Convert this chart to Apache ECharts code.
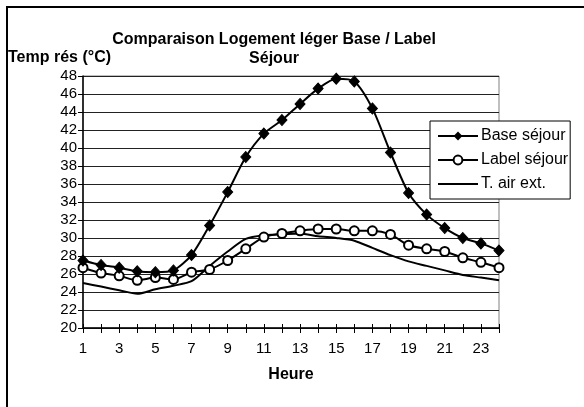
<!DOCTYPE html>
<html>
<head>
<meta charset="utf-8">
<script src="https://cdn.jsdelivr.net/npm/echarts@6/dist/echarts.min.js"></script>
<style>
html,body{margin:0;padding:0;background:#fff;}
#c{width:584px;height:407px;}
</style>
</head>
<body>
<div id="c"></div>
<script>
var hours = ['1','2','3','4','5','6','7','8','9','10','11','12','13','14','15','16','17','18','19','20','21','22','23','24'];
var baseSejour = [27.5,27.0,26.7,26.3,26.2,26.4,28.1,31.4,35.1,39.0,41.6,43.1,44.9,46.6,47.7,47.4,44.4,39.5,35.0,32.6,31.1,30.0,29.4,28.6];
var labelSejour = [26.7,26.1,25.8,25.3,25.6,25.4,26.2,26.5,27.5,28.8,30.1,30.5,30.8,31.0,31.0,30.8,30.8,30.4,29.2,28.8,28.5,27.8,27.3,26.7];
var airExt = [25.0,24.6,24.2,23.8,24.3,24.7,25.2,26.9,28.5,29.9,30.3,30.4,30.5,30.2,30.0,29.7,28.9,28.1,27.4,26.9,26.4,25.9,25.6,25.3];
var yTicks = {min: 20, max: 48, step: 2};

var chart = echarts.init(document.getElementById('c'), null, {renderer: 'canvas'});
var FONT = 'Liberation Sans, Arial, sans-serif';
chart.setOption({
  animation: false,
  backgroundColor: '#fff',
  title: {
    text: 'Comparaison Logement léger Base / Label\nSéjour',
    left: 269, top: 25, textAlign: 'center',
    textStyle: {fontFamily: FONT, fontSize: 16, fontWeight: 'bold', color: '#000', lineHeight: 19}
  },
  graphic: [
    {type: 'rect', shape: {x: 7, y: 7, width: 620, height: 440}, style: {fill: 'none', stroke: '#000', lineWidth: 2}, z: 100},
    {type: 'text', left: 8, top: 50, style: {text: 'Temp rés (°C)', font: 'bold 16px ' + FONT, fill: '#000'}}
  ],
  legend: {
    orient: 'vertical', left: 430, top: 121,
    padding: [7, 2, 7, 7],
    itemGap: 8, itemWidth: 40, itemHeight: 11,
    backgroundColor: '#fff', borderColor: '#000', borderWidth: 1,
    textStyle: {fontFamily: FONT, fontSize: 16, color: '#000', padding: [0, 0, 0, -2]},
    data: ['Base séjour', 'Label séjour', {name: 'T. air ext.', itemStyle: {opacity: 0}}]
  },
  grid: {left: 83, right: 85, top: 76, bottom: 79, show: true, borderColor: '#808080', borderWidth: 1},
  xAxis: [{
    type: 'category', data: hours, boundaryGap: false,
    axisLine: {lineStyle: {color: '#000', width: 1.5}},
    axisTick: {show: true, interval: 0, length: 5, lineStyle: {color: '#000'}},
    axisLabel: {interval: 1, margin: 13, fontFamily: FONT, fontSize: 15, color: '#000'},
    splitLine: {show: false},
    name: 'Heure', nameLocation: 'middle', nameGap: 39,
    nameTextStyle: {fontFamily: FONT, fontSize: 16, fontWeight: 'bold', color: '#000'}
  }, {
    type: 'category', data: hours, boundaryGap: false, position: 'bottom',
    axisLine: {show: false},
    axisTick: {show: true, inside: true, interval: 0, length: 4, lineStyle: {color: '#000'}},
    axisLabel: {show: false}, splitLine: {show: false}
  }],
  yAxis: [{
    type: 'value', min: yTicks.min, max: yTicks.max, interval: yTicks.step,
    axisLine: {show: true, lineStyle: {color: '#000', width: 1.5}},
    axisTick: {show: true, length: 5, lineStyle: {color: '#000'}},
    axisLabel: {margin: 6, fontFamily: FONT, fontSize: 15, color: '#000'},
    splitLine: {show: true, lineStyle: {color: '#222', width: 1}}
  }],
  series: [{
    name: 'Base séjour', type: 'line', data: baseSejour, smooth: 0.25,
    symbol: 'diamond', symbolSize: [10, 11], showAllSymbol: true,
    lineStyle: {color: '#000', width: 2}, itemStyle: {color: '#000', borderColor: '#000'}, z: 5
  }, {
    name: 'Label séjour', type: 'line', data: labelSejour, smooth: 0.25,
    symbol: 'circle', symbolSize: 9, showAllSymbol: true,
    lineStyle: {color: '#000', width: 2}, itemStyle: {color: '#fff', borderColor: '#000', borderWidth: 2}, z: 4
  }, {
    name: 'T. air ext.', type: 'line', data: airExt, smooth: 0.25,
    symbol: 'none', lineStyle: {color: '#000', width: 2}, itemStyle: {color: '#000'}, z: 3
  }]
});
</script>
</body>
</html>
